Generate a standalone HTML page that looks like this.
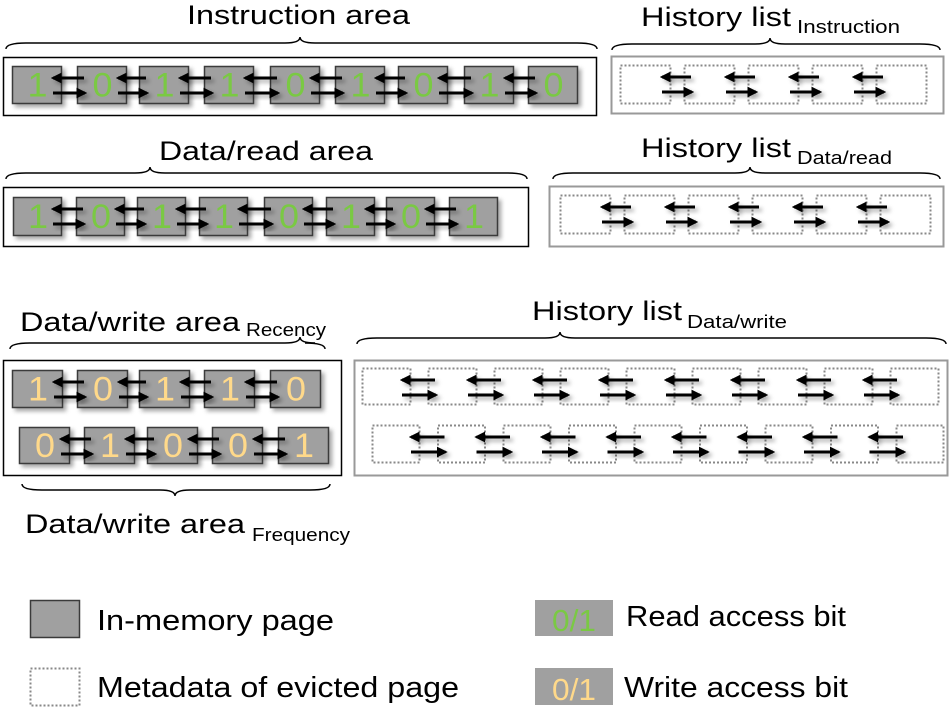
<!DOCTYPE html>
<html><head><meta charset="utf-8"><style>
html,body{margin:0;padding:0;background:#fff;}
svg{display:block;}
text{font-family:"Liberation Sans","DejaVu Sans",sans-serif;}
</style></head><body>
<svg id="s" width="952" height="707" viewBox="0 0 952 707" xmlns="http://www.w3.org/2000/svg">
<defs>
<marker id="ah" viewBox="0 0 10 10" refX="8" refY="5" markerWidth="3.6" markerHeight="3.6" markerUnits="strokeWidth" orient="auto"><path d="M0,0 L10,5 L0,10 z" fill="#000"/></marker>
<filter id="sh" x="-50%" y="-50%" width="200%" height="200%"><feDropShadow dx="3" dy="3" stdDeviation="2" flood-color="#000" flood-opacity="0.35"/></filter>
</defs>
<text x="187" y="24" font-size="27" textLength="223" lengthAdjust="spacingAndGlyphs">Instruction area</text>
<text x="641" y="26" font-size="27" textLength="150" lengthAdjust="spacingAndGlyphs">History list</text>
<text x="797" y="33" font-size="18" textLength="103" lengthAdjust="spacingAndGlyphs">Instruction</text>
<text x="159" y="160" font-size="27" textLength="214" lengthAdjust="spacingAndGlyphs">Data/read area</text>
<text x="641" y="157" font-size="27" textLength="150" lengthAdjust="spacingAndGlyphs">History list</text>
<text x="797" y="164" font-size="18" textLength="95" lengthAdjust="spacingAndGlyphs">Data/read</text>
<text x="20" y="331" font-size="27" textLength="220" lengthAdjust="spacingAndGlyphs">Data/write area</text>
<text x="246" y="336" font-size="18" textLength="80" lengthAdjust="spacingAndGlyphs">Recency</text>
<text x="532" y="320" font-size="27" textLength="150" lengthAdjust="spacingAndGlyphs">History list</text>
<text x="687" y="328" font-size="18" textLength="100" lengthAdjust="spacingAndGlyphs">Data/write</text>
<text x="25" y="533" font-size="27" textLength="220" lengthAdjust="spacingAndGlyphs">Data/write area</text>
<text x="252" y="541" font-size="18" textLength="98" lengthAdjust="spacingAndGlyphs">Frequency</text>
<rect x="3.5" y="57.5" width="593" height="58" fill="#fff" stroke="#000" stroke-width="1.5"/>
<rect x="611.5" y="56.5" width="332" height="57" fill="#fff" stroke="#999" stroke-width="2"/>
<rect x="3.5" y="187.5" width="525" height="59" fill="#fff" stroke="#000" stroke-width="1.5"/>
<rect x="549.5" y="186.5" width="394" height="60" fill="#fff" stroke="#999" stroke-width="2"/>
<rect x="3.5" y="360.5" width="338" height="115" fill="#fff" stroke="#000" stroke-width="1.5"/>
<rect x="354.5" y="360.5" width="593" height="115" fill="#fff" stroke="#999" stroke-width="2"/>
<g id="g"></g>
<rect x="30.5" y="600.5" width="49" height="37" fill="#a0a0a0" stroke="#3a3a3a" stroke-width="1.5"/>
<text x="97" y="630" font-size="29" textLength="237" lengthAdjust="spacingAndGlyphs">In-memory page</text>
<rect x="30.5" y="668.5" width="49" height="37" fill="#fff" stroke="#888" stroke-width="2" stroke-dasharray="2,2"/>
<text x="97" y="697" font-size="29" textLength="362" lengthAdjust="spacingAndGlyphs">Metadata of evicted page</text>
<rect x="535" y="600" width="78" height="36" fill="#a0a0a0"/>
<text x="574" y="631" font-size="31" fill="#7ac943" text-anchor="middle" textLength="44" lengthAdjust="spacingAndGlyphs">0/1</text>
<text x="626" y="626" font-size="29" textLength="220" lengthAdjust="spacingAndGlyphs">Read access bit</text>
<rect x="535" y="668" width="78" height="37" fill="#a0a0a0"/>
<text x="574" y="700" font-size="31" fill="#ffd98a" text-anchor="middle" textLength="44" lengthAdjust="spacingAndGlyphs">0/1</text>
<text x="624" y="697" font-size="29" textLength="224" lengthAdjust="spacingAndGlyphs">Write access bit</text>
</svg>
<script>
var NS="http://www.w3.org/2000/svg",g=document.getElementById('g');
function el(t,a,p){var e=document.createElementNS(NS,t);for(var k in a)e.setAttribute(k,a[k]);(p||g).appendChild(e);return e;}
function brace(x1,x2,y,h,tip,down){var m=tip,d;
 if(!down)d="M"+x1+","+(y+h)+" Q"+x1+","+y+" "+(x1+20)+","+y+" L"+(m-15)+","+y+" Q"+m+","+y+" "+m+","+(y-h)+" Q"+m+","+y+" "+(m+15)+","+y+" L"+(x2-20)+","+y+" Q"+x2+","+y+" "+x2+","+(y+h);
 else d="M"+x1+","+(y-h)+" Q"+x1+","+y+" "+(x1+20)+","+y+" L"+(m-15)+","+y+" Q"+m+","+y+" "+m+","+(y+h)+" Q"+m+","+y+" "+(m+15)+","+y+" L"+(x2-20)+","+y+" Q"+x2+","+y+" "+x2+","+(y-h);
 el('path',{d:d,fill:'none',stroke:'#000','stroke-width':1.5});}
brace(6,597,43,6,300);brace(612,940,44,6,770);
brace(6,527,173,6,150);brace(553,940,173,6,750);
brace(10,325,343,6,300);brace(357,946,338,6,560);
brace(22,330,490,6,175,true);
function arrows(x1,x2,top){
 var gg=el('g',{filter:'url(#sh)'});
 el('line',{x1:x2+7,y1:top+12,x2:x1-8,y2:top+12,stroke:'#000','stroke-width':3,'marker-end':'url(#ah)'},gg);
 el('line',{x1:x1-8,y1:top+27,x2:x2+8,y2:top+27,stroke:'#000','stroke-width':3,'marker-end':'url(#ah)'},gg);}
function row(xs,w,top,h,digits,col,dotted){
 for(var i=0;i<xs.length;i++){
  if(dotted) el('rect',{x:xs[i]+.5,y:top+.5,width:w,height:h,fill:'none',stroke:'#888','stroke-width':2,'stroke-dasharray':'2,2'});
  else{el('rect',{x:xs[i]+.5,y:top+.5,width:w,height:h,fill:'#a0a0a0',stroke:'#3a3a3a','stroke-width':1.5,filter:'url(#sh)'});
   var t=el('text',{x:xs[i]+w/2+1,y:top+h/2+12,'font-size':34,fill:col,'text-anchor':'middle',textLength:20,lengthAdjust:'spacingAndGlyphs'});t.textContent=digits[i];}
 }
 for(var i=0;i<xs.length-1;i++)arrows(xs[i]+w,xs[i+1],top);}
var G='#7ac943',Y='#ffd98a';
row([12,77,139,204,270,335,398,464,528],49,66,37,"101101010",G);
row([620,684,748,812,876],50,65,38,"",0,true);
row([13,76,137,199,264,326,386,449],48,197,38,"10110101",G);
var hx=[];for(var i=0;i<6;i++)hx.push(560+i*64);row(hx,50,195,38,"",0,true);
row([12,77,139,204,270],50,370,37,"10110",Y);
row([19,84,147,212,278],50,427,36,"01001",Y);
var r1=[],r2=[];for(var i=0;i<9;i++){r1.push(362+i*66);r2.push(372+i*65.5);}
row(r1,48,368,36,"",0,true);row(r2,47,425,37,"",0,true);
</script>
</body></html>
